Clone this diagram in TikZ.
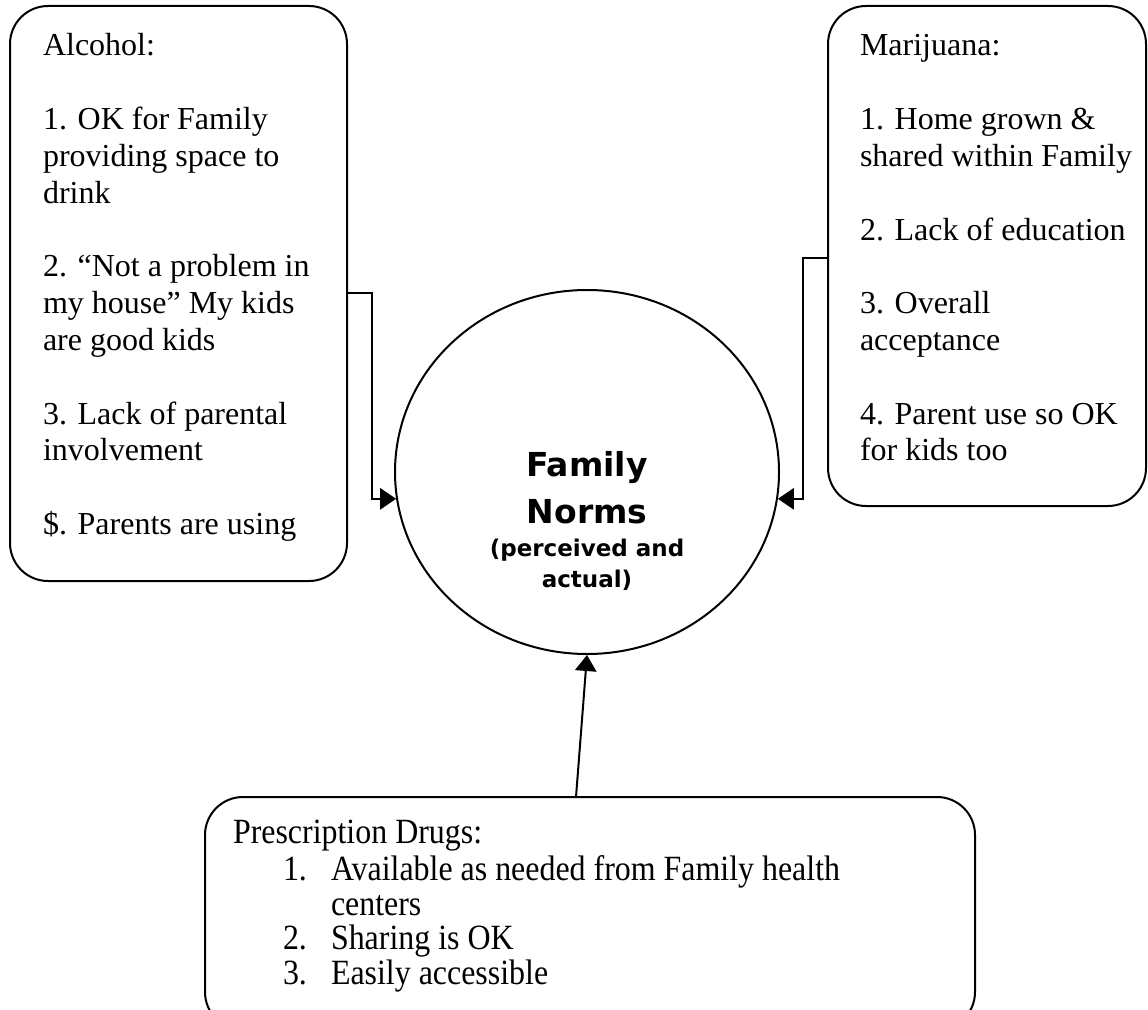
\documentclass[tikz,border=0pt]{standalone}
\usepackage{fontspec}
\setmainfont{Liberation Serif}
\newfontfamily\condfont[FakeStretch=0.9]{Liberation Serif}
\newfontfamily\vsans{DejaVu Sans}
\usetikzlibrary{shapes.geometric,arrows.meta,fit}
\begin{document}
\begin{tikzpicture}[x=0.75pt,y=-0.75pt, line width=1.5pt,
  box/.style={draw, rounded corners=28.5pt, inner sep=0pt},
  txt/.style={anchor=base west, inner sep=0pt, font=\fontsize{24}{27.6}\selectfont},
  ptxt/.style={anchor=base west, inner sep=0pt, font=\condfont\fontsize{26.6}{30}\selectfont},
  bigc/.style={anchor=base, inner sep=0pt, font=\vsans\bfseries\fontsize{24.75}{30}\selectfont},
  smallc/.style={anchor=base, inner sep=0pt, font=\vsans\bfseries\fontsize{17.25}{20}\selectfont},
  arr/.style={-{Triangle[length=12pt,width=16pt]}}]
\useasboundingbox (0,0) rectangle (1148,1009);

% boxes
\node[box, fit={(10,6) (347,581)}] (alc) {};
\node[box, fit={(828,6) (1146,506)}] (mar) {};
\node[box, fit={(205,797) (975,1030)}] (pre) {};
\node[draw, ellipse, minimum width=288pt, minimum height=273pt, inner sep=0pt] (fam) at (587,472) {};

% Alcohol text
\node[txt] (a0) at (42,56) {Alcohol:};
\node[txt] (a1) at (42,129.6) {1. OK for Family};
\node[txt] (a2) at (42,166.4) {providing space to};
\node[txt] (a3) at (42,203.2) {drink};
\node[txt] (a4) at (42,276.8) {2. “Not a problem in};
\node[txt] (a5) at (42,313.6) {my house” My kids};
\node[txt] (a6) at (42,350.4) {are good kids};
\node[txt] (a7) at (42,424) {3. Lack of parental};
\node[txt] (a8) at (42,460.8) {involvement};
\node[txt] (a9) at (42,534.4) {\$. Parents are using};

% Marijuana text
\node[txt] (m0) at (859,56) {Marijuana:};
\node[txt] (m1) at (859,129.6) {1. Home grown \&};
\node[txt] (m2) at (859,166.4) {shared within Family};
\node[txt] (m3) at (859,240) {2. Lack of education};
\node[txt] (m4) at (859,313.6) {3. Overall};
\node[txt] (m5) at (859,350.4) {acceptance};
\node[txt] (m6) at (859,424) {4. Parent use so OK};
\node[txt] (m7) at (859,460.8) {for kids too};

% Prescription text
\node[ptxt] (p0) at (232,843) {Prescription Drugs:};
\node[ptxt] (p1n) at (282,880) {1.};
\node[ptxt] (p1) at (330,880) {Available as needed from Family health};
\node[ptxt] (p1b) at (330,915) {centers};
\node[ptxt] (p2n) at (282,949) {2.};
\node[ptxt] (p2) at (330,949) {Sharing is OK};
\node[ptxt] (p3n) at (282,984) {3.};
\node[ptxt] (p3) at (330,984) {Easily accessible};

% Ellipse text
\node[bigc] (f1) at (587,476) {Family};
\node[bigc] (f2) at (587,523) {Norms};
\node[smallc] (f3) at (587,556) {(perceived and};
\node[smallc] (f4) at (587,587) {actual)};

% connectors
\coordinate (lj) at (372,293);
\coordinate (rj) at (803,258);
\coordinate (bs) at (576,797);
\draw[arr] (alc.east |- lj) -- (lj) |- (fam.188);
\draw[arr] (mar.west |- rj) -- (rj) |- (fam.352);
\draw[arr] (bs) -- (fam.south);
\end{tikzpicture}
\end{document}
